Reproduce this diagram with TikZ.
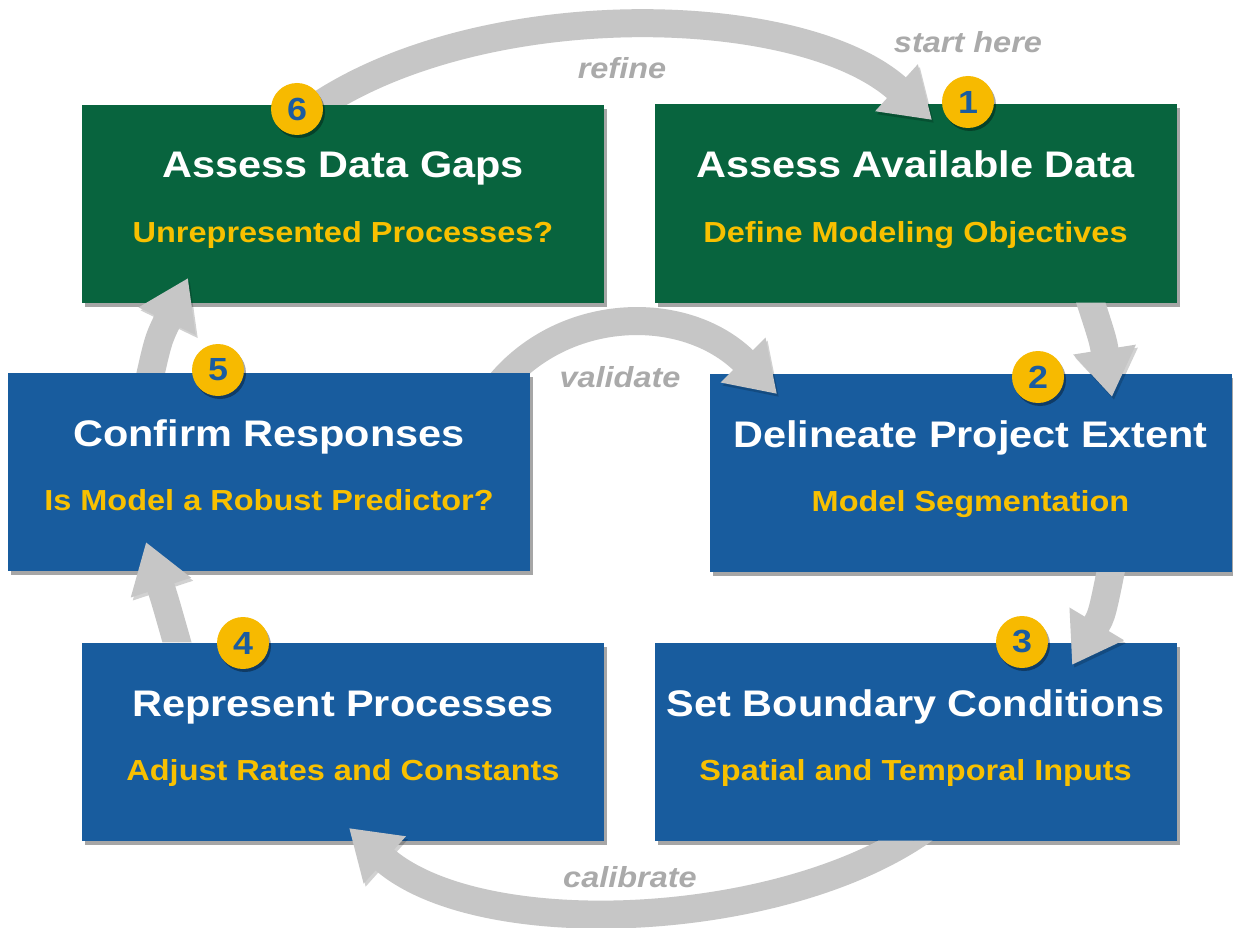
\documentclass[tikz,border=0pt]{standalone}
\usepackage{fontspec}
\setmainfont{Liberation Sans}
\newfontfamily\wide[FakeStretch=1.12]{Liberation Sans}
\usetikzlibrary{arrows.meta,shadows}
\definecolor{boxgreen}{RGB}{8,100,62}
\definecolor{boxblue}{RGB}{24,92,158}
\definecolor{goldtext}{RGB}{248,192,0}
\definecolor{goldcirc}{RGB}{247,186,0}
\definecolor{numblue}{RGB}{27,92,160}
\definecolor{arrowgray}{RGB}{198,198,198}
\definecolor{labelgray}{RGB}{170,170,170}
\tikzset{
  stepbox/.style={rectangle, minimum width=522pt, minimum height=198pt, inner sep=0pt, draw=none,
    drop shadow={shadow xshift=3pt, shadow yshift=-4pt, opacity=0.35, fill=black}},
  greenbox/.style={stepbox, fill=boxgreen},
  bluebox/.style={stepbox, fill=boxblue},
  steptitle/.style={anchor=base, text=white, inner sep=0pt, font=\wide\bfseries\fontsize{37}{42}\selectfont},
  stepsub/.style={anchor=base, text=goldtext, inner sep=0pt, font=\wide\bfseries\fontsize{29}{33}\selectfont},
  badge/.style={circle, fill=goldcirc, minimum size=52pt, inner sep=0pt, text=numblue,
    font=\wide\bfseries\fontsize{32}{34}\selectfont,
    drop shadow={shadow xshift=2pt, shadow yshift=-3pt, opacity=0.35, fill=black}},
  cyclabel/.style={text=labelgray, inner sep=0pt, font=\wide\bfseries\itshape\fontsize{29}{33}\selectfont},
  flow/.style={draw=arrowgray, line width=28pt, -{Triangle[length=48pt,width=60pt]},
    preaction={draw=black, opacity=0.18, transform canvas={xshift=2pt,yshift=-3pt}}},
}
\newcommand{\outside}[1]{(0,0) -- (1233,0) -- (1233,928) -- (0,928) -- cycle
  (#1.north west) -- (#1.south west) -- (#1.south east) -- (#1.north east) -- cycle}
\begin{document}
\begin{tikzpicture}[x=1pt,y=-1pt]
\useasboundingbox (0,0) rectangle (1233,928);
\fill[white] (0,0) rectangle (1233,928);
% boxes
\node[greenbox] (b6) at (343,204) {};
\node[greenbox] (b1) at (915.5,203.5) {};
\node[bluebox]  (b5) at (269,472) {};
\node[bluebox]  (b2) at (970.5,473) {};
\node[bluebox]  (b4) at (343,741.5) {};
\node[bluebox]  (b3) at (915.5,741.5) {};
% texts
\node[steptitle] (t6) at (343,178) {Assess Data Gaps};
\node[stepsub]   (s6) at (343,242) {Unrepresented Processes?};
\node[steptitle] (t1) at (915.5,178) {Assess Available Data};
\node[stepsub]   (s1) at (915.5,242) {Define Modeling Objectives};
\node[steptitle] (t5) at (269,446) {Confirm Responses};
\node[stepsub]   (s5) at (269,510) {Is Model a Robust Predictor?};
\node[steptitle] (t2) at (970.5,447) {Delineate Project Extent};
\node[stepsub]   (s2) at (970.5,511) {Model Segmentation};
\node[steptitle] (t4) at (343,716) {Represent Processes};
\node[stepsub]   (s4) at (343,780) {Adjust Rates and Constants};
\node[steptitle] (t3) at (915.5,716) {Set Boundary Conditions};
\node[stepsub]   (s3) at (915.5,780) {Spatial and Temporal Inputs};
% arrow end points
\coordinate (r0) at (305,115);   \coordinate (r1) at (932,120);
\coordinate (a0) at (1085,285);  \coordinate (a1) at (1112,397);
\coordinate (d0) at (1114,555);  \coordinate (d1) at (1072,665);
\coordinate (c0) at (930,825);   \coordinate (c1) at (349,828);
\coordinate (e0) at (182,660);   \coordinate (e1) at (146,542);
\coordinate (f0) at (147,390);   \coordinate (f1) at (188,278);
\coordinate (v0) at (495,390);   \coordinate (v1) at (777,394);
% arrows
\begin{scope}\clip \outside{b6};
  \draw[flow] (r0) .. controls (470,-6) and (800,0) .. (r1);
\end{scope}
\begin{scope}\clip \outside{b1};
  \draw[flow] (a0) .. controls (1103,340) .. (a1);
\end{scope}
\begin{scope}\clip \outside{b2};
  \draw[flow] (d0) .. controls (1102,615) .. (d1);
\end{scope}
\begin{scope}\clip \outside{b3};
  \draw[flow] (c0) .. controls (790,930) and (480,945) .. (c1);
\end{scope}
\begin{scope}\clip \outside{b4};
  \draw[flow] (e0) .. controls (165,600) .. (e1);
\end{scope}
\begin{scope}\clip \outside{b5};
  \draw[flow] (f0) .. controls (158,340) .. (f1);
\end{scope}
\begin{scope}\clip \outside{b5};
  \draw[flow] (v0) .. controls (560,305) and (685,302) .. (v1);
\end{scope}
% labels
\node[cyclabel] (lr) at (622,68) {refine};
\node[cyclabel] (ls) at (968,42) {start here};
\node[cyclabel] (lv) at (620,377) {validate};
\node[cyclabel] (lc) at (630,877) {calibrate};
% badges
\node[badge] (n6) at (297,109) {6};
\node[badge] (n1) at (968,102) {1};
\node[badge] (n2) at (1038,377) {2};
\node[badge] (n3) at (1022,642) {3};
\node[badge] (n4) at (243,643) {4};
\node[badge] (n5) at (218,370) {5};
\end{tikzpicture}
\end{document}
